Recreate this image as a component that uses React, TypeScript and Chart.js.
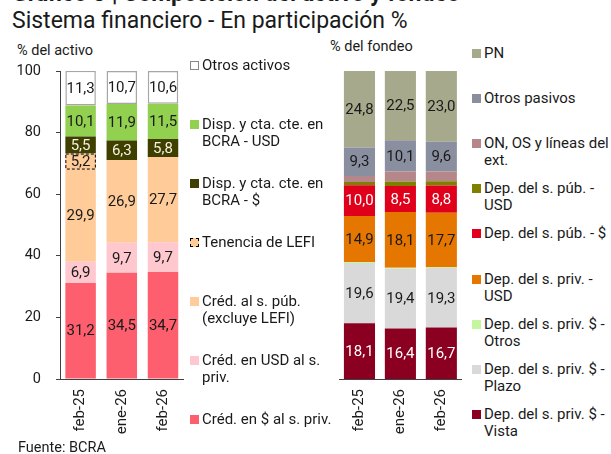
import React, { useEffect, useRef } from 'react';
import { Chart, registerables } from 'chart.js';

Chart.register(...registerables);
Chart.defaults.font.family = 'Roboto, sans-serif';

// ---------- data ----------
const periods = ['feb-25', 'ene-26', 'feb-26'];
const yTicks = [0, 20, 40, 60, 80, 100];

// Activo (bottom to top)
const credPesosPriv = [31.2, 34.5, 34.7];
const credUsdPriv = [6.9, 9.7, 9.7];
const credSPub = [29.9, 26.9, 27.7];
const tenenciaLefi = [5.2, 0, 0];
const dispPesos = [5.5, 6.3, 5.8];
const dispUsd = [10.1, 11.9, 11.5];
const otrosActivos = [11.3, 10.7, 10.6];

// Fondeo (bottom to top)
const depVista = [18.1, 16.4, 16.7];
const depPlazo = [19.6, 19.4, 19.3];
const depPrivOtros = [0.3, 0.3, 0.3];
const depPrivUsd = [14.9, 18.1, 17.7];
const depPubPesos = [10.0, 8.5, 8.8];
const depPubUsd = [1.1, 1.4, 1.4];
const onOsLineas = [1.9, 3.3, 3.2];
const otrosPasivos = [9.3, 10.1, 9.6];
const patrimonioNeto = [24.8, 22.5, 23.0];

const MIN_LABEL = 4;
const DARK = '#1a1a1a';
const LIGHT = '#ffffff';

type Series = {
  label: string[];
  data: number[];
  color: string;
  text: string;
  border?: string;
  dashed?: boolean;
};

const activoSeries: Series[] = [
  { label: ['Créd. en $ al s. priv.'], data: credPesosPriv, color: '#fe5f6e', text: DARK },
  { label: ['Créd. en USD al s.', 'priv.'], data: credUsdPriv, color: '#ffc7ce', text: DARK },
  { label: ['Créd. al s. púb.', '(excluye LEFI)'], data: credSPub, color: '#ffcc99', text: DARK },
  { label: ['Tenencia de LEFI'], data: tenenciaLefi, color: '#ffcc99', text: DARK, dashed: true },
  { label: ['Disp. y cta. cte. en', 'BCRA - $'], data: dispPesos, color: '#3f3f00', text: '#f2f2e0' },
  { label: ['Disp. y cta. cte. en', 'BCRA - USD'], data: dispUsd, color: '#92d050', text: DARK },
  { label: ['Otros activos'], data: otrosActivos, color: '#ffffff', text: DARK, border: '#a6a6a6' },
];

const fondeoSeries: Series[] = [
  { label: ['Dep. del s. priv. $ -', 'Vista'], data: depVista, color: '#8b0021', text: LIGHT },
  { label: ['Dep. del s. priv. $ -', 'Plazo'], data: depPlazo, color: '#d9d9d9', text: DARK },
  { label: ['Dep. del s. priv. $ -', 'Otros'], data: depPrivOtros, color: '#c6f5a0', text: DARK },
  { label: ['Dep. del s. priv. -', 'USD'], data: depPrivUsd, color: '#e57600', text: DARK },
  { label: ['Dep. del s. púb. - $'], data: depPubPesos, color: '#e0001b', text: LIGHT },
  { label: ['Dep. del s. púb. -', 'USD'], data: depPubUsd, color: '#808000', text: DARK },
  { label: ['ON, OS y líneas del', 'ext.'], data: onOsLineas, color: '#b5878a', text: DARK },
  { label: ['Otros pasivos'], data: otrosPasivos, color: '#8a8fa0', text: DARK },
  { label: ['PN'], data: patrimonioNeto, color: '#a6a98b', text: DARK },
];

const fmt = (v: number) => v.toFixed(1).replace('.', ',');

const barDecor = {
  id: 'barDecor',
  afterDatasetsDraw(chart: any) {
    const ctx = chart.ctx;
    ctx.save();
    chart.data.datasets.forEach((ds: any, i: number) => {
      const meta = chart.getDatasetMeta(i);
      meta.data.forEach((el: any, j: number) => {
        const v = ds.data[j];
        const { x, y, base, width } = el.getProps(['x', 'y', 'base', 'width'], true);
        if (ds.dashed && v > 0) {
          ctx.setLineDash([3, 2]);
          ctx.strokeStyle = '#000';
          ctx.lineWidth = 1;
          ctx.strokeRect(x - width / 2 + 0.5, y + 0.5, width - 1, base - y - 1);
          ctx.setLineDash([]);
        }
        if (v >= MIN_LABEL) {
          ctx.font = '15px Roboto, sans-serif';
          ctx.textAlign = 'center';
          ctx.textBaseline = 'middle';
          ctx.fillStyle = ds.labelColor;
          ctx.fillText(fmt(v), x, (y + base) / 2 + 1);
        }
      });
    });
    ctx.restore();
  },
};

type BlockProps = {
  series: Series[];
  showY: boolean;
  left: number;
  width: number;
  padLeft: number;
  padRight: number;
  barPct: number;
};

const CANVAS_TOP = 56;
const CANVAS_H = 392;
const PLOT_TOP = 15;
const PLOT_H = 308;

function StackBlock({ series, showY, left, width, padLeft, padRight, barPct }: BlockProps) {
  const ref = useRef<HTMLCanvasElement>(null);
  useEffect(() => {
    const chart = new Chart(ref.current!, {
      type: 'bar',
      data: {
        labels: periods,
        datasets: series.map((s) => ({
          label: s.label.join(' '),
          data: s.data,
          backgroundColor: s.color,
          borderColor: s.border ?? s.color,
          borderWidth: s.border ? 1.5 : 0,
          borderSkipped: false,
          categoryPercentage: 1,
          barPercentage: barPct,
          labelColor: s.text,
          dashed: !!s.dashed,
        })) as any,
      },
      options: {
        animation: false,
        responsive: false,
        devicePixelRatio: 1,
        layout: { padding: { top: PLOT_TOP, left: padLeft, right: padRight, bottom: 0 } },
        plugins: { legend: { display: false }, tooltip: { enabled: false } },
        scales: {
          x: {
            stacked: true,
            grid: { display: false, drawTicks: false },
            border: { display: true, color: '#404040', width: 1 },
            ticks: {
              minRotation: 90,
              maxRotation: 90,
              padding: 10,
              color: DARK,
              font: { size: 15 },
            },
            afterFit: (s: any) => {
              s.height = CANVAS_H - PLOT_TOP - PLOT_H;
              s.paddingTop = 0;
              s.paddingBottom = 0;
            },
          },
          y: {
            display: showY,
            stacked: true,
            min: 0,
            max: 100,
            grid: {
              display: true,
              drawOnChartArea: false,
              drawTicks: true,
              tickLength: 4,
              color: '#404040',
            },
            border: { display: true, color: '#404040', width: 1 },
            ticks: { padding: 15, color: DARK, font: { size: 14.5 } },
            afterBuildTicks: (s: any) => {
              s.ticks = yTicks.map((v) => ({ value: v }));
            },
            afterFit: (s: any) => {
              s.width = showY ? 60 : 0;
              s.paddingTop = 0;
              s.paddingBottom = 0;
            },
          },
        },
      },
      plugins: [barDecor],
    });
    return () => chart.destroy();
  }, []);
  return (
    <canvas
      ref={ref}
      width={width}
      height={CANVAS_H}
      style={{ position: 'absolute', left, top: CANVAS_TOP, width, height: CANVAS_H }}
    />
  );
}

function Legend({ series, left, top, pitch, textWidth }: { series: Series[]; left: number; top: number; pitch: number; textWidth: number }) {
  const items = [...series].reverse();
  return (
    <div style={{ position: 'absolute', left, top }}>
      {items.map((s, i) => (
        <div
          key={i}
          style={{ position: 'absolute', left: 0, top: i * pitch, display: 'flex', alignItems: 'flex-start', whiteSpace: 'nowrap' }}
        >
          <div
            style={{
              width: 9,
              height: 9,
              marginTop: 4,
              marginRight: 3,
              boxSizing: 'border-box',
              background: s.color,
              border: s.dashed ? '1px dashed #000' : s.border ? '1px solid #888' : 'none',
            }}
          />
          <div style={{ fontSize: 15, lineHeight: '17px', color: DARK, width: textWidth }}>
            {s.label.map((l, k) => (
              <div key={k}>{l}</div>
            ))}
          </div>
        </div>
      ))}
    </div>
  );
}

export default function App() {
  return (
    <div
      style={{
        position: 'absolute',
        left: 0,
        top: 0,
        width: 611,
        height: 454,
        overflow: 'hidden',
        background: '#fff',
        fontFamily: 'Roboto, sans-serif',
        color: DARK,
      }}
    >
      <div style={{ position: 'absolute', left: 12, top: -20, fontSize: 23, lineHeight: '27px', fontWeight: 700, whiteSpace: 'nowrap' }}>
        Gráfico 3 | Composición del activo y fondeo
      </div>
      <div style={{ position: 'absolute', left: 12, top: 7, fontSize: 23, lineHeight: '27px', whiteSpace: 'nowrap' }}>
        Sistema financiero - En participación %
      </div>
      <div style={{ position: 'absolute', left: 17, top: 42, fontSize: 14.5, lineHeight: '17px' }}>% del activo</div>
      <div style={{ position: 'absolute', left: 330, top: 38, fontSize: 14.5, lineHeight: '17px' }}>% del fondeo</div>

      <StackBlock series={activoSeries} showY={true} left={0} width={192} padLeft={0} padRight={6} barPct={0.74} />
      <StackBlock series={fondeoSeries} showY={false} left={330} width={140} padLeft={9} padRight={4} barPct={0.76} />

      <Legend series={activoSeries} left={190} top={57} pitch={59} textWidth={140} />
      <Legend series={fondeoSeries} left={472} top={45} pitch={45.1} textWidth={135} />

      <div style={{ position: 'absolute', left: 18, top: 439, fontSize: 14.5, lineHeight: '17px' }}>Fuente: BCRA</div>
    </div>
  );
}
